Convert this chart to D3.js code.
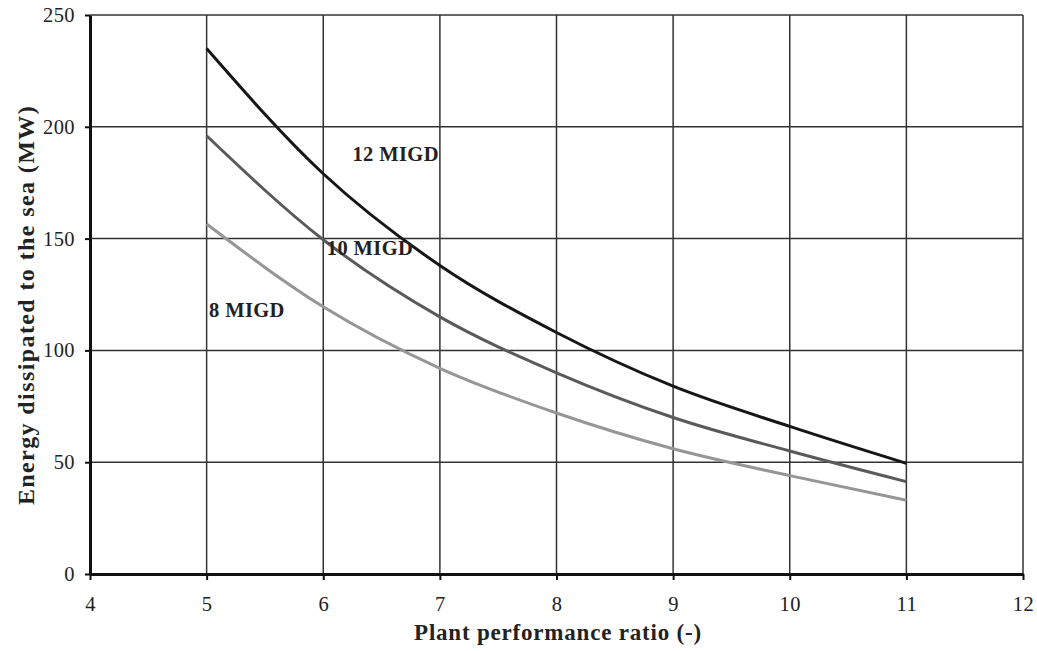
<!DOCTYPE html>
<html lang="en">
<head>
    <meta charset="UTF-8">
    <title>Energy dissipated to the sea</title>
    <style>
        html, body {
            margin: 0;
            padding: 0;
            background: #fff;
        }
        svg text {
            font-family: "Liberation Serif", "DejaVu Serif", serif;
            fill: #222;
        }
    </style>
</head>
<body>
<svg id="chart"></svg>
<script src="https://cdn.jsdelivr.net/npm/d3@7"></script>
<script>
    "use strict"

    // performance ratio values (x)
    const ratios = [5, 6, 7, 8, 9, 10, 11];

    // energy dissipated (MW)
    const migd12 = [235, 179, 138, 108, 84, 66, 49.5];
    const migd10 = [196, 149.5, 115, 90, 70, 55, 41.3];
    const migd8 = [156.5, 119.5, 92, 72, 56, 44, 33];

    const xTicks = [4, 5, 6, 7, 8, 9, 10, 11, 12];
    const yTicks = [0, 50, 100, 150, 200, 250];

    const series = [
        {name: "12 MIGD", values: migd12, color: "#161616", lx: 6.25, ly: 184.5},
        {name: "10 MIGD", values: migd10, color: "#5a5a5a", lx: 6.03, ly: 142.5},
        {name: "8 MIGD", values: migd8, color: "#969696", lx: 5.02, ly: 115}
    ];

    const width = 1037, height = 651;
    const margin = {top: 15, right: 14, bottom: 77, left: 90};

    const svg = d3.select("#chart")
        .attr("width", width)
        .attr("height", height);

    const x = d3.scaleLinear().domain([4, 12]).range([margin.left, width - margin.right]);
    const y = d3.scaleLinear().domain([0, 250]).range([height - margin.bottom, margin.top]);

    // grid
    svg.append("g")
        .selectAll("line")
        .data(xTicks.slice(1))
        .join("line")
        .attr("x1", d => x(d)).attr("x2", d => x(d))
        .attr("y1", y(0)).attr("y2", y(250))
        .attr("stroke", "#333")
        .attr("stroke-width", 1.5);

    svg.append("g")
        .selectAll("line")
        .data(yTicks.slice(1))
        .join("line")
        .attr("x1", x(4)).attr("x2", x(12))
        .attr("y1", d => y(d)).attr("y2", d => y(d))
        .attr("stroke", "#333")
        .attr("stroke-width", 1.5);

    // axes
    const xAxis = svg.append("g")
        .attr("transform", `translate(0,${y(0)})`)
        .call(d3.axisBottom(x).tickValues(xTicks).tickSize(6).tickPadding(16).tickSizeOuter(0));
    const yAxis = svg.append("g")
        .attr("transform", `translate(${x(4)},0)`)
        .call(d3.axisLeft(y).tickValues(yTicks).tickSize(5).tickPadding(10).tickSizeOuter(0));

    [xAxis, yAxis].forEach(a => {
        a.select(".domain").attr("stroke", "#111").attr("stroke-width", 3);
        a.selectAll(".tick line").attr("stroke", "#111").attr("stroke-width", 2);
        a.selectAll(".tick text")
            .attr("font-size", 20.5)
            .attr("letter-spacing", 0.4)
            .attr("font-family", "Liberation Serif, DejaVu Serif, serif")
            .attr("fill", "#222");
    });
    // little tick at the origin crossing the x axis
    xAxis.select(".tick line").attr("y1", -5);

    // curves
    const line = d3.line()
        .x((d, i) => x(ratios[i]))
        .y(d => y(d))
        .curve(d3.curveMonotoneX);

    svg.append("g")
        .selectAll("path")
        .data(series)
        .join("path")
        .attr("d", d => line(d.values))
        .attr("fill", "none")
        .attr("stroke", d => d.color)
        .attr("stroke-width", 3);

    svg.append("g")
        .selectAll("text")
        .data(series)
        .join("text")
        .attr("x", d => x(d.lx))
        .attr("y", d => y(d.ly))
        .attr("font-size", 20.5)
        .attr("letter-spacing", 0.4)
        .attr("font-weight", "bold")
        .text(d => d.name);

    // axis titles
    svg.append("text")
        .attr("x", 558)
        .attr("y", 640)
        .attr("text-anchor", "middle")
        .attr("font-size", 23)
        .attr("letter-spacing", 0.8)
        .attr("font-weight", "bold")
        .text("Plant performance ratio (-)");

    svg.append("text")
        .attr("transform", "translate(34,305) rotate(-90)")
        .attr("text-anchor", "middle")
        .attr("font-size", 24)
        .attr("letter-spacing", 1.4)
        .attr("font-weight", "bold")
        .text("Energy dissipated to the sea (MW)");
</script>
</body>
</html>
